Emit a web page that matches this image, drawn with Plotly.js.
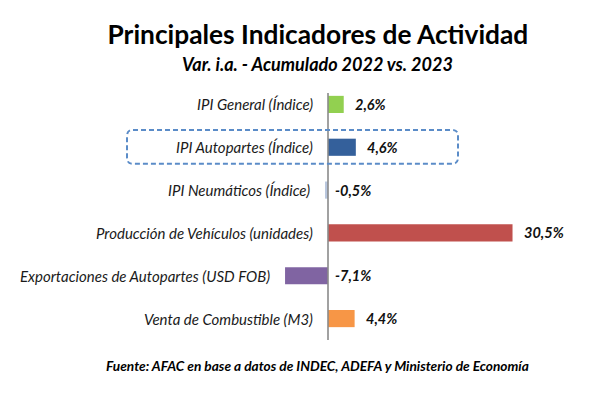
<!DOCTYPE html>
<html>
<head>
<meta charset="utf-8">
<script src="https://cdn.plot.ly/plotly-3.0.1.min.js"></script>
<style>
  html, body { margin: 0; padding: 0; background: #fff; }
  #chart { width: 592px; height: 403px; }
</style>
</head>
<body>
<div id="chart"></div>
<script>
var categories = [
  'IPI General (Índice)',
  'IPI Autopartes (Índice)',
  'IPI Neumáticos (Índice)',
  'Producción de Vehículos (unidades)',
  'Exportaciones de Autopartes (USD FOB)',
  'Venta de Combustible (M3)'
];
var values = [2.6, 4.6, -0.5, 30.5, -7.1, 4.4];
var barColors = ['#92D050', '#34609B', '#B9C7DE', '#C0504D', '#8064A2', '#F79646'];

function fmt(v) {
  return v.toFixed(1).replace('.', ',') + '%';
}

var font = 'Lato, "Open Sans", sans-serif';

var bars = {
  type: 'bar',
  orientation: 'h',
  x: values,
  y: categories,
  width: 0.4,
  marker: { color: barColors, line: { width: 0 } },
  hoverinfo: 'skip'
};

// category labels sit just left of each bar (or of the zero line)
var catLabels = categories.map(function (c, i) {
  return {
    x: Math.min(values[i], 0), y: c, xref: 'x', yref: 'y',
    text: '<i>' + c + '</i>', showarrow: false, xanchor: 'right', xshift: -13,
    font: { family: font, size: 15, color: '#1a1a1a' }
  };
});

// value labels right of the bar end (negatives go right of zero)
var valLabels = categories.map(function (c, i) {
  var v = values[i];
  return {
    x: Math.max(v, 0), y: c, xref: 'x', yref: 'y',
    text: '<b><i>' + fmt(v) + '</i></b>', showarrow: false, xanchor: 'left',
    xshift: v >= 0 ? 9 : 5,
    font: { family: font, size: 14.5, color: '#111' }
  };
});

var extra = [
  {
    xref: 'paper', yref: 'paper', x: 0.537, y: 1.074,
    text: '<b><i>Var. i.a. - Acumulado 2022 vs. 2023</i></b>',
    showarrow: false, xanchor: 'center', yanchor: 'middle',
    font: { family: font, size: 18, color: '#000' }
  },
  {
    xref: 'paper', yref: 'paper', x: 0.537, y: -0.099,
    text: '<b><i>Fuente: AFAC en base a datos de INDEC, ADEFA y Ministerio de Economía</i></b>',
    showarrow: false, xanchor: 'center', yanchor: 'middle',
    font: { family: font, size: 13.7, color: '#000' }
  }
];

// dashed rounded highlight box around one row (pixel box 127..458 x 130..164)
var W = 592, plotTop = 83, plotH = 257.5;
function px(x) { return x / W; }
function py(y) { return (plotTop + plotH - y) / plotH; }
var bx0 = 127, bx1 = 458, by0 = 130, by1 = 164, r = 6;
var boxPath = [
  'M', px(bx0 + r), py(by0),
  'L', px(bx1 - r), py(by0),
  'Q', px(bx1), py(by0), px(bx1), py(by0 + r),
  'L', px(bx1), py(by1 - r),
  'Q', px(bx1), py(by1), px(bx1 - r), py(by1),
  'L', px(bx0 + r), py(by1),
  'Q', px(bx0), py(by1), px(bx0), py(by1 - r),
  'L', px(bx0), py(by0 + r),
  'Q', px(bx0), py(by0), px(bx0 + r), py(by0),
  'Z'
].join(' ');

var layout = {
  width: 592,
  height: 403,
  margin: { t: 83, b: 62.5, l: 0, r: 0 },
  paper_bgcolor: '#fff',
  plot_bgcolor: '#fff',
  showlegend: false,
  separators: ',.',
  title: {
    text: '<b>Principales Indicadores de Actividad</b>',
    font: { family: font, size: 26.3, color: '#000' },
    x: 0.537, xanchor: 'center',
    y: 1 - 35 / 403, yanchor: 'middle', yref: 'container'
  },
  xaxis: {
    range: [-328 / 6.05, 264 / 6.05],
    showgrid: false, zeroline: false, showticklabels: false,
    showline: false, ticks: '', fixedrange: true
  },
  yaxis: {
    type: 'category',
    autorange: 'reversed',
    range: [5.5, -0.5],
    showgrid: false, zeroline: false, showticklabels: false,
    showline: false, ticks: '', fixedrange: true
  },
  shapes: [
    {
      type: 'line', xref: 'x', yref: 'paper',
      x0: 0, x1: 0, y0: 0, y1: (340.5 - 93) / 257.5,
      line: { color: '#8a8a8a', width: 1.6 },
      layer: 'above'
    },
    {
      type: 'path', xref: 'paper', yref: 'paper',
      path: boxPath,
      line: { color: '#5B8CC8', width: 2, dash: '5px,3px' },
      fillcolor: 'rgba(0,0,0,0)'
    }
  ],
  annotations: catLabels.concat(valLabels, extra)
};

Plotly.newPlot('chart', [bars], layout, { displayModeBar: false, staticPlot: true });
</script>
</body>
</html>
